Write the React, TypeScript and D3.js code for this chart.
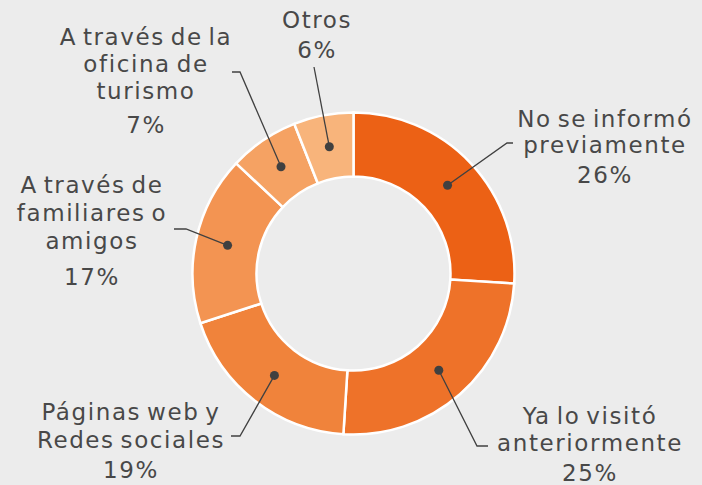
import { arc, pie, PieArcDatum } from "d3";

const categories = [
  "No se informó previamente",
  "Ya lo visitó anteriormente",
  "Páginas web y Redes sociales",
  "A través de familiares o amigos",
  "A través de la oficina de turismo",
  "Otros",
];
const values = [26, 25, 19, 17, 7, 6];
const labelLines = [
  ["No se informó", "previamente"],
  ["Ya lo visitó", "anteriormente"],
  ["Páginas web y", "Redes sociales"],
  ["A través de", "familiares o", "amigos"],
  ["A través de la", "oficina de", "turismo"],
  ["Otros"],
];
const colors = ["#ec6115", "#ee7229", "#f0833b", "#f39452", "#f5a263", "#f8b47b"];

// label placement: text centre x, first baseline, line gap, gap before %, leader elbow + end
const layout = [
  { x: 605, y: 127, gap: 26, pctGap: 30, elbow: [507, 143], end: [513, 143] },
  { x: 590, y: 424, gap: 27, pctGap: 30, elbow: [477, 446], end: [488, 446] },
  { x: 131, y: 420, gap: 28, pctGap: 30, elbow: [240, 436], end: [231, 436] },
  { x: 92, y: 193, gap: 28, pctGap: 36, elbow: [186, 229], end: [174, 229] },
  { x: 146, y: 45, gap: 27, pctGap: 34, elbow: [240, 72], end: [232, 72] },
  { x: 317, y: 28, gap: 28, pctGap: 30, elbow: [314, 67], end: [314, 67] },
];

const width = 702;
const height = 485;
const cx = 353.5;
const cy = 273.5;
const outerR = 161;
const innerR = 97;
const dotR = 129;

export default function App() {
  const slices = pie<number>().sort(null)(values);
  const sliceArc = arc<PieArcDatum<number>>().innerRadius(innerR).outerRadius(outerR);
  const dotArc = arc<PieArcDatum<number>>().innerRadius(dotR).outerRadius(dotR);

  return (
    <svg
      width={width}
      height={height}
      style={{ position: "absolute", left: 0, top: 0, background: "#ececec" }}
      fontFamily="'DejaVu Sans', sans-serif"
    >
      <g transform={`translate(${cx},${cy})`}>
        {slices.map((s, i) => (
          <path key={categories[i]} d={sliceArc(s) || ""} fill={colors[i]} stroke="#fff" strokeWidth={2.5} />
        ))}
      </g>
      {slices.map((s, i) => {
        const [dx, dy] = dotArc.centroid(s);
        const L = layout[i];
        const pts = [[cx + dx, cy + dy], L.elbow, L.end];
        const lines = labelLines[i];
        return (
          <g key={categories[i]}>
            <polyline
              points={pts.map((p) => p.join(",")).join(" ")}
              fill="none"
              stroke="#404040"
              strokeWidth={1.3}
            />
            <circle cx={cx + dx} cy={cy + dy} r={4.5} fill="#404040" />
            <text
              textAnchor="middle"
              fill="#484848"
              fontSize={23}
              letterSpacing={1.6}
              wordSpacing={-3}
            >
              {lines.map((t, j) => (
                <tspan key={j} x={L.x} y={L.y + j * L.gap}>
                  {t}
                </tspan>
              ))}
              <tspan x={L.x} y={L.y + (lines.length - 1) * L.gap + L.pctGap}>
                {values[i]}%
              </tspan>
            </text>
          </g>
        );
      })}
    </svg>
  );
}
